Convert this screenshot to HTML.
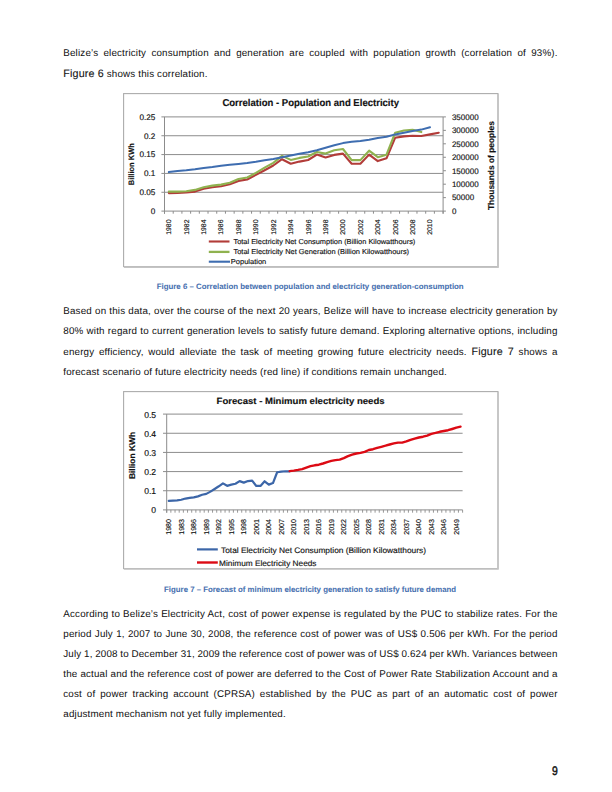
<!DOCTYPE html>
<html><head><meta charset="utf-8"><title>Belize electricity</title>
<style>
html,body{margin:0;padding:0;background:#fff;}
body{width:612px;height:792px;overflow:hidden;}
svg{display:block;font-family:'Liberation Sans', Arial, sans-serif;fill:#111;}
text{stroke:#111;stroke-width:0.15px;text-rendering:geometricPrecision;}
.b{stroke-width:0.03px;}
.f{stroke-width:0.1px;}
.cap{fill:#4670b0;stroke:#4670b0;stroke-width:0.05px;}

</style></head><body>
<svg width="612" height="792" viewBox="0 0 612 792">
<rect x="123.6" y="93.6" width="374.4" height="173" fill="#fff" stroke="#acacac" stroke-width="1.1"/>
<path d="M498 94 V267.1 H124" fill="none" stroke="#c4c4c4" stroke-width="1.6"/>
<line x1="161.4" y1="211.10" x2="443.10" y2="211.10" stroke="#8c8c8c" stroke-width="1"/>
<line x1="161.4" y1="192.26" x2="443.10" y2="192.26" stroke="#8c8c8c" stroke-width="1"/>
<line x1="161.4" y1="173.42" x2="443.10" y2="173.42" stroke="#8c8c8c" stroke-width="1"/>
<line x1="161.4" y1="154.58" x2="443.10" y2="154.58" stroke="#8c8c8c" stroke-width="1"/>
<line x1="161.4" y1="135.74" x2="443.10" y2="135.74" stroke="#8c8c8c" stroke-width="1"/>
<line x1="161.4" y1="116.90" x2="443.10" y2="116.90" stroke="#8c8c8c" stroke-width="1"/>
<line x1="164.5" y1="116.9" x2="164.5" y2="213.7" stroke="#8c8c8c" stroke-width="1"/>
<line x1="443.1" y1="116.9" x2="443.1" y2="213.7" stroke="#8c8c8c" stroke-width="1"/>
<line x1="164.50" y1="211.1" x2="164.50" y2="213.7" stroke="#8c8c8c" stroke-width="1"/>
<line x1="173.21" y1="211.1" x2="173.21" y2="213.7" stroke="#8c8c8c" stroke-width="1"/>
<line x1="181.91" y1="211.1" x2="181.91" y2="213.7" stroke="#8c8c8c" stroke-width="1"/>
<line x1="190.62" y1="211.1" x2="190.62" y2="213.7" stroke="#8c8c8c" stroke-width="1"/>
<line x1="199.32" y1="211.1" x2="199.32" y2="213.7" stroke="#8c8c8c" stroke-width="1"/>
<line x1="208.03" y1="211.1" x2="208.03" y2="213.7" stroke="#8c8c8c" stroke-width="1"/>
<line x1="216.74" y1="211.1" x2="216.74" y2="213.7" stroke="#8c8c8c" stroke-width="1"/>
<line x1="225.44" y1="211.1" x2="225.44" y2="213.7" stroke="#8c8c8c" stroke-width="1"/>
<line x1="234.15" y1="211.1" x2="234.15" y2="213.7" stroke="#8c8c8c" stroke-width="1"/>
<line x1="242.86" y1="211.1" x2="242.86" y2="213.7" stroke="#8c8c8c" stroke-width="1"/>
<line x1="251.56" y1="211.1" x2="251.56" y2="213.7" stroke="#8c8c8c" stroke-width="1"/>
<line x1="260.27" y1="211.1" x2="260.27" y2="213.7" stroke="#8c8c8c" stroke-width="1"/>
<line x1="268.98" y1="211.1" x2="268.98" y2="213.7" stroke="#8c8c8c" stroke-width="1"/>
<line x1="277.68" y1="211.1" x2="277.68" y2="213.7" stroke="#8c8c8c" stroke-width="1"/>
<line x1="286.39" y1="211.1" x2="286.39" y2="213.7" stroke="#8c8c8c" stroke-width="1"/>
<line x1="295.09" y1="211.1" x2="295.09" y2="213.7" stroke="#8c8c8c" stroke-width="1"/>
<line x1="303.80" y1="211.1" x2="303.80" y2="213.7" stroke="#8c8c8c" stroke-width="1"/>
<line x1="312.51" y1="211.1" x2="312.51" y2="213.7" stroke="#8c8c8c" stroke-width="1"/>
<line x1="321.21" y1="211.1" x2="321.21" y2="213.7" stroke="#8c8c8c" stroke-width="1"/>
<line x1="329.92" y1="211.1" x2="329.92" y2="213.7" stroke="#8c8c8c" stroke-width="1"/>
<line x1="338.62" y1="211.1" x2="338.62" y2="213.7" stroke="#8c8c8c" stroke-width="1"/>
<line x1="347.33" y1="211.1" x2="347.33" y2="213.7" stroke="#8c8c8c" stroke-width="1"/>
<line x1="356.04" y1="211.1" x2="356.04" y2="213.7" stroke="#8c8c8c" stroke-width="1"/>
<line x1="364.74" y1="211.1" x2="364.74" y2="213.7" stroke="#8c8c8c" stroke-width="1"/>
<line x1="373.45" y1="211.1" x2="373.45" y2="213.7" stroke="#8c8c8c" stroke-width="1"/>
<line x1="382.16" y1="211.1" x2="382.16" y2="213.7" stroke="#8c8c8c" stroke-width="1"/>
<line x1="390.86" y1="211.1" x2="390.86" y2="213.7" stroke="#8c8c8c" stroke-width="1"/>
<line x1="399.57" y1="211.1" x2="399.57" y2="213.7" stroke="#8c8c8c" stroke-width="1"/>
<line x1="408.28" y1="211.1" x2="408.28" y2="213.7" stroke="#8c8c8c" stroke-width="1"/>
<line x1="416.98" y1="211.1" x2="416.98" y2="213.7" stroke="#8c8c8c" stroke-width="1"/>
<line x1="425.69" y1="211.1" x2="425.69" y2="213.7" stroke="#8c8c8c" stroke-width="1"/>
<line x1="434.39" y1="211.1" x2="434.39" y2="213.7" stroke="#8c8c8c" stroke-width="1"/>
<line x1="443.10" y1="211.1" x2="443.10" y2="213.7" stroke="#8c8c8c" stroke-width="1"/>
<line x1="443.1" y1="211.10" x2="445.90" y2="211.10" stroke="#8c8c8c" stroke-width="1"/>
<line x1="443.1" y1="197.64" x2="445.90" y2="197.64" stroke="#8c8c8c" stroke-width="1"/>
<line x1="443.1" y1="184.19" x2="445.90" y2="184.19" stroke="#8c8c8c" stroke-width="1"/>
<line x1="443.1" y1="170.73" x2="445.90" y2="170.73" stroke="#8c8c8c" stroke-width="1"/>
<line x1="443.1" y1="157.27" x2="445.90" y2="157.27" stroke="#8c8c8c" stroke-width="1"/>
<line x1="443.1" y1="143.81" x2="445.90" y2="143.81" stroke="#8c8c8c" stroke-width="1"/>
<line x1="443.1" y1="130.36" x2="445.90" y2="130.36" stroke="#8c8c8c" stroke-width="1"/>
<line x1="443.1" y1="116.90" x2="445.90" y2="116.90" stroke="#8c8c8c" stroke-width="1"/>
<polyline points="168.85,193.10 177.56,192.90 186.27,192.50 194.97,191.60 203.68,188.70 212.38,187.30 221.09,186.30 229.80,184.20 238.50,180.90 247.21,179.50 255.92,174.90 264.62,170.30 273.33,165.50 282.03,159.20 290.74,163.80 299.45,161.60 308.15,160.00 316.86,154.60 325.57,157.50 334.27,154.90 342.98,153.60 351.68,163.80 360.39,163.80 369.10,154.60 377.80,161.10 386.51,158.30 395.22,137.70 403.92,136.40 412.63,135.70 421.33,136.00 430.04,134.40 438.75,132.70" fill="none" stroke="#b23c39" stroke-width="2.1" stroke-linejoin="round" stroke-linecap="round"/>
<polyline points="168.85,191.60 177.56,191.60 186.27,191.20 194.97,189.90 203.68,187.30 212.38,185.60 221.09,184.60 229.80,182.70 238.50,179.00 247.21,177.50 255.92,172.90 264.62,167.70 273.33,162.90 282.03,155.90 290.74,159.90 299.45,157.90 308.15,156.50 316.86,152.00 325.57,153.60 334.27,150.30 342.98,149.00 351.68,160.10 360.39,160.10 369.10,150.70 377.80,157.20 386.51,154.70 395.22,132.70 403.92,130.50 412.63,129.80 421.33,132.10" fill="none" stroke="#8fb24f" stroke-width="2.1" stroke-linejoin="round" stroke-linecap="round"/>
<polyline points="168.85,172.00 177.56,170.90 186.27,170.30 194.97,169.30 203.68,168.00 212.38,167.00 221.09,165.70 229.80,164.80 238.50,164.00 247.21,163.10 255.92,161.80 264.62,160.30 273.33,159.00 282.03,157.30 290.74,155.60 299.45,153.70 308.15,152.20 316.86,150.30 325.57,147.70 334.27,145.30 342.98,143.10 351.68,141.80 360.39,141.10 369.10,139.80 377.80,138.00 386.51,136.80 395.22,134.40 403.92,132.70 412.63,131.10 421.33,129.60 430.04,127.20" fill="none" stroke="#3e6db0" stroke-width="2.0" stroke-linejoin="round" stroke-linecap="round"/>
<text x="155.4" y="214.00" font-size="8.2" text-anchor="end">0</text>
<text x="155.4" y="195.16" font-size="8.2" text-anchor="end">0.05</text>
<text x="155.4" y="176.32" font-size="8.2" text-anchor="end">0.1</text>
<text x="155.4" y="157.48" font-size="8.2" text-anchor="end">0.15</text>
<text x="155.4" y="138.64" font-size="8.2" text-anchor="end">0.2</text>
<text x="155.4" y="119.80" font-size="8.2" text-anchor="end">0.25</text>
<text x="451.9" y="213.90" font-size="8">0</text>
<text x="451.9" y="200.44" font-size="8">50000</text>
<text x="451.9" y="186.99" font-size="8">100000</text>
<text x="451.9" y="173.53" font-size="8">150000</text>
<text x="451.9" y="160.07" font-size="8">200000</text>
<text x="451.9" y="146.61" font-size="8">250000</text>
<text x="451.9" y="133.16" font-size="8">300000</text>
<text x="451.9" y="119.70" font-size="8">350000</text>
<text transform="translate(171.25,219.5) rotate(-90)" font-size="6.9" text-anchor="end">1980</text>
<text transform="translate(188.67,219.5) rotate(-90)" font-size="6.9" text-anchor="end">1982</text>
<text transform="translate(206.08,219.5) rotate(-90)" font-size="6.9" text-anchor="end">1984</text>
<text transform="translate(223.49,219.5) rotate(-90)" font-size="6.9" text-anchor="end">1986</text>
<text transform="translate(240.90,219.5) rotate(-90)" font-size="6.9" text-anchor="end">1988</text>
<text transform="translate(258.32,219.5) rotate(-90)" font-size="6.9" text-anchor="end">1990</text>
<text transform="translate(275.73,219.5) rotate(-90)" font-size="6.9" text-anchor="end">1992</text>
<text transform="translate(293.14,219.5) rotate(-90)" font-size="6.9" text-anchor="end">1994</text>
<text transform="translate(310.55,219.5) rotate(-90)" font-size="6.9" text-anchor="end">1996</text>
<text transform="translate(327.97,219.5) rotate(-90)" font-size="6.9" text-anchor="end">1998</text>
<text transform="translate(345.38,219.5) rotate(-90)" font-size="6.9" text-anchor="end">2000</text>
<text transform="translate(362.79,219.5) rotate(-90)" font-size="6.9" text-anchor="end">2002</text>
<text transform="translate(380.20,219.5) rotate(-90)" font-size="6.9" text-anchor="end">2004</text>
<text transform="translate(397.62,219.5) rotate(-90)" font-size="6.9" text-anchor="end">2006</text>
<text transform="translate(415.03,219.5) rotate(-90)" font-size="6.9" text-anchor="end">2008</text>
<text transform="translate(432.44,219.5) rotate(-90)" font-size="6.9" text-anchor="end">2010</text>
<text transform="translate(134.1,164.2) rotate(-90)" font-size="7.9" font-weight="bold" text-anchor="middle" textLength="42" lengthAdjust="spacingAndGlyphs">Billion KWh</text>
<text transform="translate(493.6,165.6) rotate(-90)" font-size="8.5" font-weight="bold" text-anchor="middle" textLength="89" lengthAdjust="spacingAndGlyphs">Thousands of peoples</text>
<text x="222.4" y="105.9" font-size="10" font-weight="bold" textLength="176.6" lengthAdjust="spacingAndGlyphs">Correlation - Population and Electricity</text>
<line x1="208.8" y1="241.5" x2="229.5" y2="241.5" stroke="#b23c39" stroke-width="2.1"/>
<line x1="208.8" y1="251.9" x2="229.5" y2="251.9" stroke="#8fb24f" stroke-width="2.3"/>
<line x1="208.8" y1="261.7" x2="230" y2="261.7" stroke="#3e6db0" stroke-width="2.1"/>
<text x="233.5" y="243.9" font-size="7.2" textLength="181.8" lengthAdjust="spacingAndGlyphs">Total Electricity Net Consumption (Billion Kilowatthours)</text>
<text x="233.5" y="254.4" font-size="7.2" textLength="175.6" lengthAdjust="spacingAndGlyphs">Total Electricity Net Generation (Billion Kilowatthours)</text>
<text x="230.8" y="264.0" font-size="7.2" textLength="35.5" lengthAdjust="spacingAndGlyphs">Population</text>
<rect x="123.6" y="391.6" width="374.4" height="177" fill="#fff" stroke="#acacac" stroke-width="1.1"/>
<path d="M498 392 V569.1 H124" fill="none" stroke="#c4c4c4" stroke-width="1.5"/>
<line x1="163" y1="509.90" x2="462.60" y2="509.90" stroke="#8c8c8c" stroke-width="1"/>
<line x1="163" y1="490.74" x2="462.60" y2="490.74" stroke="#8c8c8c" stroke-width="1"/>
<line x1="163" y1="471.58" x2="462.60" y2="471.58" stroke="#8c8c8c" stroke-width="1"/>
<line x1="163" y1="452.42" x2="462.60" y2="452.42" stroke="#8c8c8c" stroke-width="1"/>
<line x1="163" y1="433.26" x2="462.60" y2="433.26" stroke="#8c8c8c" stroke-width="1"/>
<line x1="163" y1="414.10" x2="462.60" y2="414.10" stroke="#8c8c8c" stroke-width="1"/>
<line x1="166.7" y1="414.1" x2="166.7" y2="512.6999999999999" stroke="#8c8c8c" stroke-width="1"/>
<line x1="166.70" y1="509.9" x2="166.70" y2="512.6999999999999" stroke="#8c8c8c" stroke-width="0.9"/>
<line x1="170.87" y1="509.9" x2="170.87" y2="512.6999999999999" stroke="#8c8c8c" stroke-width="0.9"/>
<line x1="175.04" y1="509.9" x2="175.04" y2="512.6999999999999" stroke="#8c8c8c" stroke-width="0.9"/>
<line x1="179.20" y1="509.9" x2="179.20" y2="512.6999999999999" stroke="#8c8c8c" stroke-width="0.9"/>
<line x1="183.37" y1="509.9" x2="183.37" y2="512.6999999999999" stroke="#8c8c8c" stroke-width="0.9"/>
<line x1="187.54" y1="509.9" x2="187.54" y2="512.6999999999999" stroke="#8c8c8c" stroke-width="0.9"/>
<line x1="191.71" y1="509.9" x2="191.71" y2="512.6999999999999" stroke="#8c8c8c" stroke-width="0.9"/>
<line x1="195.87" y1="509.9" x2="195.87" y2="512.6999999999999" stroke="#8c8c8c" stroke-width="0.9"/>
<line x1="200.04" y1="509.9" x2="200.04" y2="512.6999999999999" stroke="#8c8c8c" stroke-width="0.9"/>
<line x1="204.21" y1="509.9" x2="204.21" y2="512.6999999999999" stroke="#8c8c8c" stroke-width="0.9"/>
<line x1="208.38" y1="509.9" x2="208.38" y2="512.6999999999999" stroke="#8c8c8c" stroke-width="0.9"/>
<line x1="212.54" y1="509.9" x2="212.54" y2="512.6999999999999" stroke="#8c8c8c" stroke-width="0.9"/>
<line x1="216.71" y1="509.9" x2="216.71" y2="512.6999999999999" stroke="#8c8c8c" stroke-width="0.9"/>
<line x1="220.88" y1="509.9" x2="220.88" y2="512.6999999999999" stroke="#8c8c8c" stroke-width="0.9"/>
<line x1="225.05" y1="509.9" x2="225.05" y2="512.6999999999999" stroke="#8c8c8c" stroke-width="0.9"/>
<line x1="229.21" y1="509.9" x2="229.21" y2="512.6999999999999" stroke="#8c8c8c" stroke-width="0.9"/>
<line x1="233.38" y1="509.9" x2="233.38" y2="512.6999999999999" stroke="#8c8c8c" stroke-width="0.9"/>
<line x1="237.55" y1="509.9" x2="237.55" y2="512.6999999999999" stroke="#8c8c8c" stroke-width="0.9"/>
<line x1="241.72" y1="509.9" x2="241.72" y2="512.6999999999999" stroke="#8c8c8c" stroke-width="0.9"/>
<line x1="245.88" y1="509.9" x2="245.88" y2="512.6999999999999" stroke="#8c8c8c" stroke-width="0.9"/>
<line x1="250.05" y1="509.9" x2="250.05" y2="512.6999999999999" stroke="#8c8c8c" stroke-width="0.9"/>
<line x1="254.22" y1="509.9" x2="254.22" y2="512.6999999999999" stroke="#8c8c8c" stroke-width="0.9"/>
<line x1="258.39" y1="509.9" x2="258.39" y2="512.6999999999999" stroke="#8c8c8c" stroke-width="0.9"/>
<line x1="262.55" y1="509.9" x2="262.55" y2="512.6999999999999" stroke="#8c8c8c" stroke-width="0.9"/>
<line x1="266.72" y1="509.9" x2="266.72" y2="512.6999999999999" stroke="#8c8c8c" stroke-width="0.9"/>
<line x1="270.89" y1="509.9" x2="270.89" y2="512.6999999999999" stroke="#8c8c8c" stroke-width="0.9"/>
<line x1="275.06" y1="509.9" x2="275.06" y2="512.6999999999999" stroke="#8c8c8c" stroke-width="0.9"/>
<line x1="279.23" y1="509.9" x2="279.23" y2="512.6999999999999" stroke="#8c8c8c" stroke-width="0.9"/>
<line x1="283.39" y1="509.9" x2="283.39" y2="512.6999999999999" stroke="#8c8c8c" stroke-width="0.9"/>
<line x1="287.56" y1="509.9" x2="287.56" y2="512.6999999999999" stroke="#8c8c8c" stroke-width="0.9"/>
<line x1="291.73" y1="509.9" x2="291.73" y2="512.6999999999999" stroke="#8c8c8c" stroke-width="0.9"/>
<line x1="295.90" y1="509.9" x2="295.90" y2="512.6999999999999" stroke="#8c8c8c" stroke-width="0.9"/>
<line x1="300.06" y1="509.9" x2="300.06" y2="512.6999999999999" stroke="#8c8c8c" stroke-width="0.9"/>
<line x1="304.23" y1="509.9" x2="304.23" y2="512.6999999999999" stroke="#8c8c8c" stroke-width="0.9"/>
<line x1="308.40" y1="509.9" x2="308.40" y2="512.6999999999999" stroke="#8c8c8c" stroke-width="0.9"/>
<line x1="312.57" y1="509.9" x2="312.57" y2="512.6999999999999" stroke="#8c8c8c" stroke-width="0.9"/>
<line x1="316.73" y1="509.9" x2="316.73" y2="512.6999999999999" stroke="#8c8c8c" stroke-width="0.9"/>
<line x1="320.90" y1="509.9" x2="320.90" y2="512.6999999999999" stroke="#8c8c8c" stroke-width="0.9"/>
<line x1="325.07" y1="509.9" x2="325.07" y2="512.6999999999999" stroke="#8c8c8c" stroke-width="0.9"/>
<line x1="329.24" y1="509.9" x2="329.24" y2="512.6999999999999" stroke="#8c8c8c" stroke-width="0.9"/>
<line x1="333.40" y1="509.9" x2="333.40" y2="512.6999999999999" stroke="#8c8c8c" stroke-width="0.9"/>
<line x1="337.57" y1="509.9" x2="337.57" y2="512.6999999999999" stroke="#8c8c8c" stroke-width="0.9"/>
<line x1="341.74" y1="509.9" x2="341.74" y2="512.6999999999999" stroke="#8c8c8c" stroke-width="0.9"/>
<line x1="345.91" y1="509.9" x2="345.91" y2="512.6999999999999" stroke="#8c8c8c" stroke-width="0.9"/>
<line x1="350.07" y1="509.9" x2="350.07" y2="512.6999999999999" stroke="#8c8c8c" stroke-width="0.9"/>
<line x1="354.24" y1="509.9" x2="354.24" y2="512.6999999999999" stroke="#8c8c8c" stroke-width="0.9"/>
<line x1="358.41" y1="509.9" x2="358.41" y2="512.6999999999999" stroke="#8c8c8c" stroke-width="0.9"/>
<line x1="362.58" y1="509.9" x2="362.58" y2="512.6999999999999" stroke="#8c8c8c" stroke-width="0.9"/>
<line x1="366.75" y1="509.9" x2="366.75" y2="512.6999999999999" stroke="#8c8c8c" stroke-width="0.9"/>
<line x1="370.91" y1="509.9" x2="370.91" y2="512.6999999999999" stroke="#8c8c8c" stroke-width="0.9"/>
<line x1="375.08" y1="509.9" x2="375.08" y2="512.6999999999999" stroke="#8c8c8c" stroke-width="0.9"/>
<line x1="379.25" y1="509.9" x2="379.25" y2="512.6999999999999" stroke="#8c8c8c" stroke-width="0.9"/>
<line x1="383.42" y1="509.9" x2="383.42" y2="512.6999999999999" stroke="#8c8c8c" stroke-width="0.9"/>
<line x1="387.58" y1="509.9" x2="387.58" y2="512.6999999999999" stroke="#8c8c8c" stroke-width="0.9"/>
<line x1="391.75" y1="509.9" x2="391.75" y2="512.6999999999999" stroke="#8c8c8c" stroke-width="0.9"/>
<line x1="395.92" y1="509.9" x2="395.92" y2="512.6999999999999" stroke="#8c8c8c" stroke-width="0.9"/>
<line x1="400.09" y1="509.9" x2="400.09" y2="512.6999999999999" stroke="#8c8c8c" stroke-width="0.9"/>
<line x1="404.25" y1="509.9" x2="404.25" y2="512.6999999999999" stroke="#8c8c8c" stroke-width="0.9"/>
<line x1="408.42" y1="509.9" x2="408.42" y2="512.6999999999999" stroke="#8c8c8c" stroke-width="0.9"/>
<line x1="412.59" y1="509.9" x2="412.59" y2="512.6999999999999" stroke="#8c8c8c" stroke-width="0.9"/>
<line x1="416.76" y1="509.9" x2="416.76" y2="512.6999999999999" stroke="#8c8c8c" stroke-width="0.9"/>
<line x1="420.92" y1="509.9" x2="420.92" y2="512.6999999999999" stroke="#8c8c8c" stroke-width="0.9"/>
<line x1="425.09" y1="509.9" x2="425.09" y2="512.6999999999999" stroke="#8c8c8c" stroke-width="0.9"/>
<line x1="429.26" y1="509.9" x2="429.26" y2="512.6999999999999" stroke="#8c8c8c" stroke-width="0.9"/>
<line x1="433.43" y1="509.9" x2="433.43" y2="512.6999999999999" stroke="#8c8c8c" stroke-width="0.9"/>
<line x1="437.59" y1="509.9" x2="437.59" y2="512.6999999999999" stroke="#8c8c8c" stroke-width="0.9"/>
<line x1="441.76" y1="509.9" x2="441.76" y2="512.6999999999999" stroke="#8c8c8c" stroke-width="0.9"/>
<line x1="445.93" y1="509.9" x2="445.93" y2="512.6999999999999" stroke="#8c8c8c" stroke-width="0.9"/>
<line x1="450.10" y1="509.9" x2="450.10" y2="512.6999999999999" stroke="#8c8c8c" stroke-width="0.9"/>
<line x1="454.26" y1="509.9" x2="454.26" y2="512.6999999999999" stroke="#8c8c8c" stroke-width="0.9"/>
<line x1="458.43" y1="509.9" x2="458.43" y2="512.6999999999999" stroke="#8c8c8c" stroke-width="0.9"/>
<line x1="462.60" y1="509.9" x2="462.60" y2="512.6999999999999" stroke="#8c8c8c" stroke-width="0.9"/>
<polyline points="168.78,500.82 172.95,500.57 177.12,500.36 181.29,499.78 185.45,498.56 189.62,497.83 193.79,497.33 197.96,496.39 202.12,494.76 206.29,493.90 210.46,491.64 214.63,488.96 218.80,486.29 222.96,483.38 227.13,485.82 231.30,484.65 235.47,483.75 239.63,481.12 243.80,482.65 247.97,481.05 252.14,480.57 256.30,485.97 260.47,485.97 264.64,481.27 268.81,484.63 272.97,483.08 277.14,472.27 281.31,471.58 285.48,471.27 289.64,471.35" fill="none" stroke="#3c66a8" stroke-width="2.2" stroke-linejoin="round" stroke-linecap="round"/>
<polyline points="289.64,471.10 293.81,470.60 297.98,469.90 302.15,469.10 306.31,467.60 310.48,466.20 314.65,465.30 318.82,464.70 322.99,463.50 327.15,462.10 331.32,460.90 335.49,460.10 339.66,459.60 343.82,458.10 347.99,456.20 352.16,454.70 356.33,453.50 360.49,452.90 364.66,451.80 368.83,450.00 373.00,449.20 377.16,447.90 381.33,446.80 385.50,445.70 389.67,444.50 393.83,443.40 398.00,442.60 402.17,442.60 406.34,441.40 410.50,439.80 414.67,438.60 418.84,437.50 423.01,436.70 427.18,435.60 431.34,433.90 435.51,432.90 439.68,431.80 443.85,431.00 448.01,430.20 452.18,429.00 456.35,427.70 460.52,426.60" fill="none" stroke="#dc0a14" stroke-width="2.4" stroke-linejoin="round" stroke-linecap="round"/>
<text x="156.1" y="513.30" font-size="8.6" text-anchor="end">0</text>
<text x="156.1" y="494.14" font-size="8.6" text-anchor="end">0.1</text>
<text x="156.1" y="474.98" font-size="8.6" text-anchor="end">0.2</text>
<text x="156.1" y="455.82" font-size="8.6" text-anchor="end">0.3</text>
<text x="156.1" y="436.66" font-size="8.6" text-anchor="end">0.4</text>
<text x="156.1" y="417.50" font-size="8.6" text-anchor="end">0.5</text>
<text transform="translate(171.33,519) rotate(-90)" font-size="7.1" text-anchor="end">1980</text>
<text transform="translate(183.84,519) rotate(-90)" font-size="7.1" text-anchor="end">1983</text>
<text transform="translate(196.34,519) rotate(-90)" font-size="7.1" text-anchor="end">1986</text>
<text transform="translate(208.84,519) rotate(-90)" font-size="7.1" text-anchor="end">1989</text>
<text transform="translate(221.35,519) rotate(-90)" font-size="7.1" text-anchor="end">1992</text>
<text transform="translate(233.85,519) rotate(-90)" font-size="7.1" text-anchor="end">1995</text>
<text transform="translate(246.35,519) rotate(-90)" font-size="7.1" text-anchor="end">1998</text>
<text transform="translate(258.85,519) rotate(-90)" font-size="7.1" text-anchor="end">2001</text>
<text transform="translate(271.36,519) rotate(-90)" font-size="7.1" text-anchor="end">2004</text>
<text transform="translate(283.86,519) rotate(-90)" font-size="7.1" text-anchor="end">2007</text>
<text transform="translate(296.36,519) rotate(-90)" font-size="7.1" text-anchor="end">2010</text>
<text transform="translate(308.86,519) rotate(-90)" font-size="7.1" text-anchor="end">2013</text>
<text transform="translate(321.37,519) rotate(-90)" font-size="7.1" text-anchor="end">2016</text>
<text transform="translate(333.87,519) rotate(-90)" font-size="7.1" text-anchor="end">2019</text>
<text transform="translate(346.37,519) rotate(-90)" font-size="7.1" text-anchor="end">2022</text>
<text transform="translate(358.88,519) rotate(-90)" font-size="7.1" text-anchor="end">2025</text>
<text transform="translate(371.38,519) rotate(-90)" font-size="7.1" text-anchor="end">2028</text>
<text transform="translate(383.88,519) rotate(-90)" font-size="7.1" text-anchor="end">2031</text>
<text transform="translate(396.38,519) rotate(-90)" font-size="7.1" text-anchor="end">2034</text>
<text transform="translate(408.89,519) rotate(-90)" font-size="7.1" text-anchor="end">2037</text>
<text transform="translate(421.39,519) rotate(-90)" font-size="7.1" text-anchor="end">2040</text>
<text transform="translate(433.89,519) rotate(-90)" font-size="7.1" text-anchor="end">2043</text>
<text transform="translate(446.40,519) rotate(-90)" font-size="7.1" text-anchor="end">2046</text>
<text transform="translate(458.90,519) rotate(-90)" font-size="7.1" text-anchor="end">2049</text>
<text transform="translate(135.2,455.5) rotate(-90)" font-size="8.4" font-weight="bold" text-anchor="middle" textLength="47.2" lengthAdjust="spacingAndGlyphs">Billion KWh</text>
<text x="216.6" y="403.6" font-size="9.0" font-weight="bold" textLength="168" lengthAdjust="spacingAndGlyphs">Forecast - Minimum electricity needs</text>
<line x1="197" y1="549.4" x2="217.8" y2="549.4" stroke="#3c66a8" stroke-width="2.2"/>
<line x1="197" y1="562.5" x2="217.8" y2="562.5" stroke="#dc0a14" stroke-width="2.4"/>
<text x="221" y="552.8" font-size="8" textLength="205" lengthAdjust="spacingAndGlyphs">Total Electricity Net Consumption (Billion Kilowatthours)</text>
<text x="219.1" y="565.9" font-size="8" textLength="97.4" lengthAdjust="spacingAndGlyphs">Minimum Electricity Needs</text>
<text x="310.2" y="289.3" font-size="7.8" font-weight="bold" class="cap" text-anchor="middle" textLength="307" lengthAdjust="spacingAndGlyphs">Figure 6 – Correlation between population and electricity generation-consumption</text>
<text x="310.1" y="591.5" font-size="7.8" font-weight="bold" class="cap" text-anchor="middle" textLength="292" lengthAdjust="spacingAndGlyphs">Figure 7 – Forecast of minimum electricity generation to satisfy future demand</text>
<text x="551.9" y="774.8" font-size="12.4" style="stroke-width:0.45px" textLength="5.8" lengthAdjust="spacingAndGlyphs">9</text>
<text transform="translate(63.3,55.9) scale(1,1.0)" font-size="9.8" word-spacing="2.339" letter-spacing="0.17" class="b">Belize’s electricity consumption and generation are coupled with population growth (correlation of 93%).</text>
<text transform="translate(63.3,76.6) scale(1,1.0)" font-size="9.8" word-spacing="0.000" letter-spacing="0.17" class="b"><tspan font-size="10.69" class="f">Figure 6</tspan> shows this correlation.</text>
<text transform="translate(63.3,314.0) scale(1,1.0)" font-size="9.8" word-spacing="0.193" letter-spacing="0.17" class="b">Based on this data, over the course of the next 20 years, Belize will have to increase electricity generation by</text>
<text transform="translate(63.3,334.2) scale(1,1.0)" font-size="9.8" word-spacing="0.273" letter-spacing="0.17" class="b">80% with regard to current generation levels to satisfy future demand. Exploring alternative options, including</text>
<text transform="translate(63.3,354.5) scale(1,1.0)" font-size="9.8" word-spacing="1.835" letter-spacing="0.17" class="b">energy efficiency, would alleviate the task of meeting growing future electricity needs. <tspan font-size="10.69" class="f">Figure 7</tspan> shows a</text>
<text transform="translate(63.3,375.2) scale(1,1.0)" font-size="9.8" word-spacing="0.000" letter-spacing="0.17" class="b">forecast scenario of future electricity needs (red line) if conditions remain unchanged.</text>
<text transform="translate(63.3,616.9) scale(1,1.0)" font-size="9.8" word-spacing="0.215" letter-spacing="0.17" class="b">According to Belize’s Electricity Act, cost of power expense is regulated by the PUC to stabilize rates. For the</text>
<text transform="translate(63.3,637.0) scale(1,1.0)" font-size="9.8" word-spacing="0.377" letter-spacing="0.17" class="b">period July 1, 2007 to June 30, 2008, the reference cost of power was of US$ 0.506 per kWh. For the period</text>
<text transform="translate(63.3,656.8) scale(1,1.0)" font-size="9.8" word-spacing="-0.251" letter-spacing="0.17" class="b">July 1, 2008 to December 31, 2009 the reference cost of power was of US$ 0.624 per kWh. Variances between</text>
<text transform="translate(63.3,677.0) scale(1,1.0)" font-size="9.8" word-spacing="0.074" letter-spacing="0.17" class="b">the actual and the reference cost of power are deferred to the Cost of Power Rate Stabilization Account and a</text>
<text transform="translate(63.3,696.7) scale(1,1.0)" font-size="9.8" word-spacing="1.981" letter-spacing="0.17" class="b">cost of power tracking account (CPRSA) established by the PUC as part of an automatic cost of power</text>
<text transform="translate(63.3,716.6) scale(1,1.0)" font-size="9.8" word-spacing="0.000" letter-spacing="0.17" class="b">adjustment mechanism not yet fully implemented.</text>
</svg>
</body></html>
